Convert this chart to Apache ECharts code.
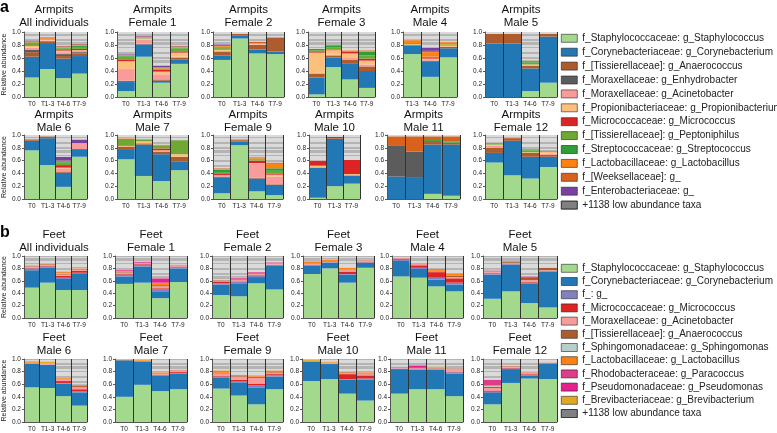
<!DOCTYPE html>
<html><head><meta charset="utf-8">
<script src="https://cdn.jsdelivr.net/npm/echarts@6/dist/echarts.min.js"></script>
<style>html,body{margin:0;padding:0;background:#fff}#c{width:777px;height:433px}</style>
</head><body><div id="c"></div>
<script>
// ---------- DATA ----------
const TAXA_A = ['f_Staphylococcaceae: g_Staphylococcus','f_Corynebacteriaceae: g_Corynebacterium','f_[Tissierellaceae]: g_Anaerococcus','f_Moraxellaceae: g_Enhydrobacter','f_Moraxellaceae: g_Acinetobacter','f_Propionibacteriaceae: g_Propionibacterium','f_Micrococcaceae: g_Micrococcus','f_[Tissierellaceae]: g_Peptoniphilus','f_Streptococcaceae: g_Streptococcus','f_Lactobacillaceae: g_Lactobacillus','f_[Weeksellaceae]: g_','f_Enterobacteriaceae: g_','+1138 low abundance taxa'];
const TAXA_B = ['f_Staphylococcaceae: g_Staphylococcus','f_Corynebacteriaceae: g_Corynebacterium','f_: g_','f_Micrococcaceae: g_Micrococcus','f_Moraxellaceae: g_Acinetobacter','f_[Tissierellaceae]: g_Anaerococcus','f_Sphingomonadaceae: g_Sphingomonas','f_Lactobacillaceae: g_Lactobacillus','f_Rhodobacteraceae: g_Paracoccus','f_Pseudomonadaceae: g_Pseudomonas','f_Brevibacteriaceae: g_Brevibacterium','+1138 low abundance taxa'];

const T_FULL = ['T0','T1-3','T4-6','T7-9'];
const T_NO_T0 = ['T1-3','T4-6','T7-9'];
const T_NO_T46 = ['T0','T1-3','T7-9'];

// Armpits: S, C, Anaerococcus, Enhydrobacter, Acinetobacter, Propionibacterium, Micrococcus, Peptoniphilus, Streptococcus, Lactobacillus, Weeksellaceae, Enterobacteriaceae, low abundance
const A_ALL = [[.30,.32,.07,.04,.03,.03,.01,.03,.01,.01,.01,.01,.13],[.43,.40,.02,.01,.01,.01,0,.01,0,.01,.02,0,.08],[.29,.30,.04,.03,.03,.02,.01,.03,.01,.01,.01,.01,.21],[.36,.27,.04,.02,.02,.01,.02,.03,.02,.01,.01,.01,.18]];
const A_F1 = [[.09,.14,.02,0,.18,.12,.02,.05,.01,.01,.01,.01,.34],[.62,.19,.01,0,.06,.02,0,.01,0,.01,.01,.01,.06],[.22,.03,.02,0,.08,.04,.03,.02,0,.01,.01,.02,.52],[.51,.07,.02,0,.02,.06,.01,.06,.01,.01,.01,.01,.21]];
const A_F2 = [[.57,.07,.06,0,.01,.02,.01,.02,.01,.01,.02,.01,.19],[.90,.05,.02,0,0,0,0,0,0,0,0,0,.03],[.67,.06,.07,0,.01,.01,0,.01,0,0,.02,0,.15],[.66,.04,.21,0,0,0,0,0,0,0,.01,0,.08]];
const A_F3 = [[.04,.26,.06,0,.01,.31,.01,.03,.02,0,0,0,.26],[.46,.15,.03,0,.01,.07,.01,.03,.03,0,.01,0,.20],[.27,.24,.06,0,.03,.07,.03,.01,0,.01,0,0,.28],[.14,.26,.07,0,.03,.06,.03,.05,.06,.01,.01,0,.28]];
const A_M4 = [[.66,.13,.01,0,0,.01,0,.02,0,.04,.01,0,.12],[.31,.23,.02,0,.01,.02,.01,.02,0,.07,.02,.05,.24],[.61,.14,.02,0,0,.02,0,.02,0,.03,.01,0,.15]];
const A_M5 = [[0,.82,.15,0,0,0,0,0,0,0,0,0,.03],[0,.82,.15,0,0,0,0,0,0,0,0,0,.03],[.09,.35,.04,0,.01,.01,0,.03,.02,0,.01,0,.44],[.22,.71,.04,0,0,0,0,0,0,0,0,0,.03]];
const A_M6 = [[.76,.15,.02,0,0,0,0,0,0,.01,0,0,.06],[.53,.42,.03,0,0,0,0,0,0,0,0,0,.02],[.19,.22,.02,0,.05,.01,.04,.04,.02,0,.01,.06,.34],[.66,.12,0,0,.08,.01,0,0,0,0,0,.06,.07]];
const A_M7 = [[.62,.16,.04,0,0,.01,0,.11,0,.01,0,0,.05],[.36,.49,.02,0,0,.03,0,.03,0,.01,0,0,.06],[.28,.42,.04,0,.01,.01,.03,.05,0,.01,0,0,.15],[.45,.14,.07,0,0,.04,0,.22,0,0,0,0,.08]];
const A_F9 = [[.09,.24,.02,0,.01,.01,.02,.02,.05,.01,.01,0,.52],[.84,.06,.02,0,0,.01,0,0,0,0,.01,0,.06],[.12,.20,.01,0,.22,.01,.04,.02,.01,.02,.01,0,.34],[.06,.16,.01,0,.12,.03,.02,.04,.04,.07,.02,0,.43]];
const A_M10 = [[.02,.47,0,0,.01,.02,.08,0,0,0,0,0,.40],[.20,.74,.01,0,0,0,.02,0,0,0,0,0,.03],[.24,.12,.01,0,0,.02,.22,0,0,0,0,0,.39]];
const A_M11 = [[0,.35,0,.49,0,0,0,0,0,0,.14,0,.02],[0,.33,0,.41,0,0,0,0,0,0,.24,0,.02],[.08,.77,.04,0,0,0,0,0,.03,0,.06,0,.02],[.05,.80,.03,0,0,0,0,0,.02,0,.08,0,.02]];
const A_F12 = [[.57,.15,.08,0,.03,.02,0,.01,.01,0,.01,0,.12],[.37,.54,.04,0,0,0,0,0,0,0,.01,0,.04],[.32,.34,.06,0,0,.01,0,.03,.01,0,.01,0,.22],[.50,.16,.03,0,.02,.02,0,0,0,.01,.01,0,.25]];

// Feet: S, C, f_:g_, Micrococcus, Acinetobacter, Anaerococcus, Sphingomonas, Lactobacillus, Paracoccus, Pseudomonas, Brevibacterium, low abundance
const F_ALL = [[.49,.28,.03,.01,.02,.01,.01,.01,0,0,0,.14],[.57,.24,.02,.01,.02,.01,0,.01,0,0,0,.12],[.45,.18,.02,.03,.02,.01,.01,.02,.01,0,0,.25],[.45,.26,.02,.03,.02,.01,.01,.02,0,0,0,.18]];
const F_F1 = [[.55,.12,.03,.01,.02,.01,.01,0,.02,.01,0,.22],[.57,.26,.03,.01,.02,0,0,0,.02,0,0,.09],[.32,.10,.04,.02,.03,.02,0,.03,.01,.07,0,.36],[.58,.22,.02,.01,.02,0,0,0,.01,0,0,.14]];
const F_F2 = [[.37,.17,.02,.03,.01,.01,.01,0,0,0,0,.38],[.35,.21,.02,.01,.02,.01,0,0,.02,.01,0,.35],[.56,.10,.02,.01,.02,.01,0,0,.02,0,0,.26],[.46,.38,.02,0,.02,.01,0,0,.01,0,0,.10]];
const F_F3 = [[.71,.13,.01,.01,.01,.01,0,.03,0,0,.01,.08],[.80,.09,.01,0,.01,.01,0,.02,0,0,0,.06],[.57,.13,.01,.04,.02,.01,0,.03,0,0,0,.19],[.81,.08,.01,.01,.02,.01,0,0,0,0,0,.06]];
const F_M4 = [[.67,.25,.02,.02,.01,0,0,0,0,0,0,.03],[.65,.14,.02,.04,.02,.01,0,0,0,0,0,.12],[.51,.11,.03,.09,.01,.01,0,.03,0,0,0,.21],[.43,.11,.03,.07,.02,.02,0,.03,0,0,0,.29]];
const F_M5 = [[.31,.39,.02,.01,.02,.01,.01,0,.01,0,0,.22],[.43,.43,.01,.01,.01,.02,0,.01,0,0,0,.08],[.24,.31,.02,.01,.03,.05,.01,0,.01,0,0,.32],[.17,.58,.01,0,.01,.04,0,0,0,0,0,.19]];
const F_M6 = [[.55,.38,0,0,.01,0,0,.02,0,0,.01,.03],[.54,.37,0,0,.01,0,0,.01,0,0,.03,.04],[.41,.20,.01,.03,.03,.01,0,.01,0,0,0,.30],[.26,.21,.02,.03,.03,.02,0,.01,.01,0,0,.41]];
const F_M7 = [[.40,.58,0,0,0,0,0,.01,0,0,0,.01],[.59,.37,.01,0,0,0,0,.01,0,0,.01,.01],[.49,.24,.01,.01,.01,.01,0,.02,0,0,0,.21],[.52,.25,.01,.02,.02,.01,0,0,0,0,0,.17]];
const F_F9 = [[.53,.17,.02,.01,.04,.01,0,.04,0,0,0,.18],[.42,.21,.02,.02,.05,.02,0,.01,0,0,0,.25],[.28,.27,.03,.03,.09,.02,0,.01,.01,0,0,.26],[.52,.20,.02,.02,.02,.01,0,.03,0,0,0,.18]];
const F_M10 = [[.65,.31,0,0,0,0,0,.01,0,0,.02,.01],[.68,.24,.01,0,.01,0,0,.01,0,0,.01,.04],[.45,.22,.01,.08,.02,.01,0,.01,0,0,0,.20],[.34,.33,.02,.05,.02,.01,0,.02,0,0,0,.21]];
const F_M11 = [[.45,.39,.01,0,.01,.01,.01,0,0,0,0,.12],[.52,.31,.01,0,.01,0,0,0,.01,.04,0,.10],[.52,.31,.01,0,.01,.01,0,.01,0,0,.01,.12],[.41,.36,.02,.01,.04,.01,0,0,0,0,0,.15]];
const F_F12 = [[.28,.18,.02,.02,.04,.02,.01,.01,.09,0,0,.33],[.62,.22,.01,.01,.02,.01,0,0,0,0,0,.11],[.69,.05,.01,.01,.03,.01,.01,0,0,0,0,.19],[.68,.25,.01,0,.01,0,0,0,0,0,0,.05]];

const PANELS = [
  ['A','Armpits','All individuals',T_FULL,A_ALL],['A','Armpits','Female 1',T_FULL,A_F1],['A','Armpits','Female 2',T_FULL,A_F2],
  ['A','Armpits','Female 3',T_FULL,A_F3],['A','Armpits','Male 4',T_NO_T0,A_M4],['A','Armpits','Male 5',T_FULL,A_M5],
  ['A','Armpits','Male 6',T_FULL,A_M6],['A','Armpits','Male 7',T_FULL,A_M7],['A','Armpits','Female 9',T_FULL,A_F9],
  ['A','Armpits','Male 10',T_NO_T46,A_M10],['A','Armpits','Male 11',T_FULL,A_M11],['A','Armpits','Female 12',T_FULL,A_F12],
  ['B','Feet','All individuals',T_FULL,F_ALL],['B','Feet','Female 1',T_FULL,F_F1],['B','Feet','Female 2',T_FULL,F_F2],
  ['B','Feet','Female 3',T_FULL,F_F3],['B','Feet','Male 4',T_FULL,F_M4],['B','Feet','Male 5',T_FULL,F_M5],
  ['B','Feet','Male 6',T_FULL,F_M6],['B','Feet','Male 7',T_FULL,F_M7],['B','Feet','Female 9',T_FULL,F_F9],
  ['B','Feet','Male 10',T_FULL,F_M10],['B','Feet','Male 11',T_FULL,F_M11],['B','Feet','Female 12',T_FULL,F_F12]
];

// ---------- STYLE / LAYOUT ----------
const COLORS_A = ['#a3d98c','#2178b4','#ad5c2e','#5c5c5c','#f99b9b','#fdbf7e','#dc2424','#6fa833','#2e9f36','#fd8213','#d8621b','#7741a0','#b4b4b4'];
const COLORS_B = ['#a3d98c','#2178b4','#8280c0','#dc2424','#f99b9b','#ad5c2e','#b9cdc9','#fd8213','#dc3e8a','#e5218b','#e3a822','#b4b4b4'];
const FONT = '"Liberation Sans", Arial, Helvetica, sans-serif';
// [left, right, top, bottom] of each plot area
const BOXES = [
 [21,87,32,97],[117,188,32,97],[213,284,32,97],[308,375,32,97],[403,457,32,97],[485,557,32,97],
 [21,87,135,199],[117,188,135,199],[213,283,135,199],[309,360,135,199],[387,460,135,199],[485,557,135,199],
 [21,87,256,318],[115,187,256,318],[212,283,256,318],[303,374,256,318],[392,463,256,318],[483,557,256,318],
 [21,87,359,424],[115,187,359,424],[212,283,359,424],[302,374,359,424],[390,463,359,424],[483,557,359,424]
];
const TITLE_TOP = [3,108,228,331];
const STRIPES = {symbol:'rect', symbolSize:1, symbolKeepAspect:false, dashArrayX:[1,0], dashArrayY:[3,2,1,3,2,1,4,2], rotation:0, color:'rgba(222,222,222,0.9)'};

const grid=[], xAxis=[], yAxis=[], series=[], title=[];
PANELS.forEach((p,i)=>{
  const [sec, site, who, times, bars] = p;
  const [l,r,t,b] = BOXES[i];
  grid.push({left:l, top:t, width:r-l, height:b-t, containLabel:false});
  xAxis.push({gridIndex:i, type:'category', data:times, z:5,
    axisLine:{show:true, lineStyle:{color:'#555', width:1}}, axisTick:{show:false},
    axisLabel:{fontSize:6.5, color:'#222', margin:4, interval:0, fontFamily:FONT},
    splitLine:{show:true, interval:0, lineStyle:{color:'#333', width:1}}});
  yAxis.push({gridIndex:i, type:'value', min:0, max:1, interval:0.2, z:5,
    axisLine:{show:true, lineStyle:{color:'#555', width:1}}, axisTick:{show:true, length:2, lineStyle:{color:'#555'}},
    axisLabel:{fontSize:6.5, color:'#222', margin:3, fontFamily:FONT, formatter:v=>v.toFixed(1)},
    splitLine:{show:false},
    name: (i%6===0) ? 'Relative abundance' : '', nameLocation:'middle', nameRotate:90, nameGap:15,
    nameTextStyle:{fontSize:7, color:'#222', fontFamily:FONT}});
  const row = Math.floor(i/6);
  title.push({text: site+'\n'+who, left:(l+r)/2, top:TITLE_TOP[row], textAlign:'center', padding:0,
    textStyle:{fontSize:11.5, fontWeight:'normal', lineHeight:13.5, color:'#111', fontFamily:FONT}});
  const taxa = sec==='A' ? TAXA_A : TAXA_B;
  const cols = sec==='A' ? COLORS_A : COLORS_B;
  taxa.forEach((name,k)=>{
    const low = k===taxa.length-1;
    series.push({type:'bar', name, stack:'s'+i, xAxisIndex:i, yAxisIndex:i, barCategoryGap:'0%', silent:true,
      data: bars.map(v=>v[k]),
      itemStyle: low ? {color:cols[k], decal:STRIPES} : {color:cols[k]}});
  });
});
title.push({text:'a', left:0, top:0, padding:0, textStyle:{fontSize:16, fontWeight:'bold', color:'#000', fontFamily:FONT}});
title.push({text:'b', left:0, top:225, padding:0, textStyle:{fontSize:16, fontWeight:'bold', color:'#000', fontFamily:FONT}});

function legendData(taxa){
  return taxa.map((n,k)=> k===taxa.length-1 ? {name:n, itemStyle:{color:'#808080', decal:{symbol:'none', color:'rgba(0,0,0,0)'}}} : {name:n});
}
const legendCommon = {orient:'vertical', left:561, padding:0, itemWidth:16, itemHeight:8, selectedMode:false, icon:'rect',
  itemStyle:{borderColor:'#222', borderWidth:0.6},
  textStyle:{fontSize:10, color:'#222', fontFamily:FONT, lineHeight:12}};
const legend = [
  Object.assign({}, legendCommon, {top:32.3, itemGap:1.9, data:legendData(TAXA_A)}),
  Object.assign({}, legendCommon, {top:262.3, itemGap:1.2, data:legendData(TAXA_B)})
];

const chart = echarts.init(document.getElementById('c'), null, {renderer:'canvas'});
chart.setOption({animation:false, textStyle:{fontFamily:FONT}, title, grid, xAxis, yAxis, series, legend});
</script></body></html>
